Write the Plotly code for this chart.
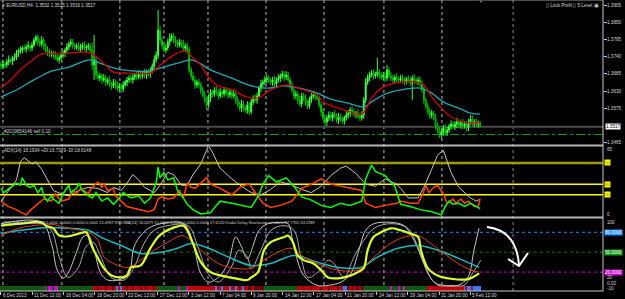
import plotly.graph_objects as go

# ---------------- DATA ----------------
first_open = 1.3716
close = [
    1.3710, 1.3717, 1.3714, 1.3723, 1.3730, 1.3726, 1.3736, 1.3739, 1.3752, 1.3758,
    1.3761, 1.3768, 1.3765, 1.3771, 1.3774, 1.3768, 1.3777, 1.3793, 1.3803, 1.3787,
    1.3781, 1.3793, 1.3774, 1.3761, 1.3755, 1.3749, 1.3752, 1.3745, 1.3739, 1.3730,
    1.3736, 1.3745, 1.3752, 1.3761, 1.3771, 1.3781, 1.3787, 1.3777, 1.3771, 1.3774,
    1.3765, 1.3771, 1.3777, 1.3768, 1.3771, 1.3774, 1.3761, 1.3714, 1.3730, 1.3682,
    1.3672, 1.3679, 1.3666, 1.3672, 1.3659, 1.3666, 1.3653, 1.3647, 1.3659, 1.3650,
    1.3640, 1.3647, 1.3637, 1.3650, 1.3659, 1.3666, 1.3672, 1.3666, 1.3675, 1.3682,
    1.3675, 1.3685, 1.3679, 1.3688, 1.3682, 1.3691, 1.3685, 1.3694, 1.3710, 1.3730,
    1.3745, 1.3825, 1.3793, 1.3777, 1.3761, 1.3768, 1.3787, 1.3800, 1.3806, 1.3793,
    1.3784, 1.3777, 1.3787, 1.3781, 1.3768, 1.3774, 1.3761, 1.3698, 1.3679, 1.3666,
    1.3650, 1.3659, 1.3650, 1.3634, 1.3618, 1.3602, 1.3586, 1.3608, 1.3627, 1.3621,
    1.3634, 1.3627, 1.3615, 1.3627, 1.3621, 1.3634, 1.3624, 1.3618, 1.3627, 1.3615,
    1.3621, 1.3602, 1.3589, 1.3576, 1.3589, 1.3576, 1.3570, 1.3586, 1.3564, 1.3596,
    1.3608, 1.3602, 1.3615, 1.3640, 1.3653, 1.3659, 1.3666, 1.3672, 1.3666, 1.3659,
    1.3666, 1.3653, 1.3666, 1.3672, 1.3679, 1.3685, 1.3675, 1.3682, 1.3666, 1.3650,
    1.3634, 1.3615, 1.3621, 1.3602, 1.3589, 1.3615, 1.3608, 1.3596, 1.3583, 1.3602,
    1.3615, 1.3618, 1.3612, 1.3608, 1.3586, 1.3564, 1.3545, 1.3532, 1.3545, 1.3554,
    1.3545, 1.3557, 1.3551, 1.3538, 1.3548, 1.3541, 1.3535, 1.3545, 1.3554, 1.3560,
    1.3570, 1.3564, 1.3557, 1.3560, 1.3551, 1.3545, 1.3554, 1.3602, 1.3659, 1.3672,
    1.3682, 1.3688, 1.3679, 1.3685, 1.3691, 1.3682, 1.3675, 1.3679, 1.3672, 1.3698,
    1.3679, 1.3672, 1.3666, 1.3675, 1.3669, 1.3666, 1.3672, 1.3666, 1.3659, 1.3669,
    1.3666, 1.3656, 1.3672, 1.3666, 1.3659, 1.3666, 1.3656, 1.3634, 1.3602, 1.3583,
    1.3564, 1.3554, 1.3560, 1.3545, 1.3522, 1.3506, 1.3490, 1.3500, 1.3513, 1.3497,
    1.3506, 1.3519, 1.3525, 1.3516, 1.3525, 1.3532, 1.3522, 1.3529, 1.3519, 1.3525,
    1.3513, 1.3532, 1.3541, 1.3525, 1.3532, 1.3525, 1.3529, 1.3517,
]
upper_wick_pips = [
    9, 12, 7, 10, 14, 8, 6, 11, 10, 8,  12, 7, 10, 9, 15, 6, 10, 8, 6, 9,
    10, 13, 7, 9, 12, 10, 6, 8, 13, 10,  9, 12, 10, 7, 13, 8, 11, 10, 6, 9,
    12, 10, 8, 13, 7, 10, 9, 23, 79, 10,  12, 9, 7, 13, 10, 8, 12, 7, 10, 9,
    13, 10, 8, 12, 7, 10, 9, 12, 10, 7,  9, 12, 10, 7, 13, 8, 10, 12, 9, 14,
    12, 64, 13, 10, 9, 12, 10, 14, 9, 10,  12, 9, 10, 7, 13, 9, 12, 10, 9, 12,
    10, 7, 12, 9, 10, 13, 9, 12, 10, 7,  9, 12, 10, 13, 7, 10, 9, 12, 10, 9,
    12, 7, 10, 9, 13, 10, 7, 12, 9, 10,  9, 12, 10, 7, 13, 9, 12, 10, 9, 7,
    10, 13, 9, 12, 7, 10, 9, 12, 10, 9,  12, 9, 10, 7, 13, 10, 9, 12, 7, 10,
    9, 12, 10, 13, 7, 9, 12, 10, 9, 12,  10, 7, 12, 9, 13, 10, 9, 7, 12, 10,
    9, 12, 10, 7, 13, 9, 12, 10, 14, 12,  10, 9, 12, 7, 45, 10, 9, 12, 10, 16,
    9, 12, 10, 7, 13, 9, 10, 12, 9, 7,  12, 10, 9, 13, 7, 10, 12, 9, 10, 7,
    9, 12, 10, 7, 13, 9, 12, 10, 9, 12,  10, 7, 12, 9, 10, 13, 9, 7, 12, 10,
    9, 10, 13, 12, 9, 10, 7, 6,
]
lower_wick_pips = [
    10, 7, 12, 9, 10, 7, 13, 9, 10, 12,  9, 10, 7, 12, 9, 13, 10, 7, 9, 12,
    10, 9, 12, 7, 13, 10, 9, 12, 10, 7,  12, 9, 10, 13, 7, 10, 9, 12, 10, 9,
    7, 12, 10, 9, 13, 10, 7, 16, 48, 12,  9, 10, 13, 7, 12, 9, 10, 12, 7, 13,
    10, 9, 12, 10, 7, 13, 9, 10, 12, 9,  10, 7, 12, 9, 10, 13, 9, 12, 7, 10,
    9, 12, 10, 13, 7, 10, 9, 12, 10, 9,  12, 10, 7, 13, 9, 10, 12, 9, 10, 7,
    13, 9, 10, 12, 7, 10, 16, 9, 12, 10,  9, 10, 12, 7, 13, 9, 10, 12, 9, 10,
    7, 12, 10, 9, 13, 10, 9, 12, 10, 7,  10, 9, 12, 7, 13, 10, 9, 12, 10, 9,
    12, 7, 10, 9, 13, 10, 12, 9, 7, 10,  9, 12, 10, 13, 7, 10, 9, 12, 10, 9,
    10, 9, 12, 7, 10, 13, 9, 16, 12, 10,  9, 12, 7, 10, 13, 9, 10, 12, 9, 10,
    12, 10, 9, 13, 7, 10, 9, 12, 10, 9,  10, 7, 12, 9, 10, 13, 9, 10, 12, 9,
    7, 10, 12, 9, 13, 10, 9, 12, 10, 7,  10, 9, 54, 12, 7, 10, 13, 9, 12, 10,
    9, 12, 10, 7, 13, 9, 9, 10, 12, 9,  10, 9, 12, 7, 10, 13, 9, 12, 10, 9,
    12, 10, 9, 7, 10, 9, 12, 1,
]

# moving averages on the price window (bar index, price)
red_ma_bar = [0, 5, 10, 15, 21, 31, 41, 46, 50, 55, 58, 65, 77, 81, 84, 89, 94, 96, 99, 103,
              107, 112, 120, 125, 132, 139, 148, 153, 163, 166, 174, 180, 186, 191, 196, 201, 206, 215, 218, 222,
              227, 232, 237, 242, 247]
red_ma_val = [1.3640, 1.3666, 1.3698, 1.3723, 1.3749, 1.3749, 1.3755, 1.3752, 1.3736, 1.3707,
              1.3691, 1.3688, 1.3688, 1.3707, 1.3723, 1.3745, 1.3758, 1.3755, 1.3736, 1.3714,
              1.3675, 1.3647, 1.3634, 1.3615, 1.3608, 1.3634, 1.3650, 1.3640, 1.3618, 1.3596,
              1.3576, 1.3564, 1.3557, 1.3608, 1.3640, 1.3653, 1.3659, 1.3659, 1.3650, 1.3612,
              1.3576, 1.3548, 1.3535, 1.3529, 1.3529]
cyan_ma_bar = [0, 8, 17, 26, 35, 46, 52, 60, 69, 77, 82, 93, 98, 103, 108, 119, 129, 138, 146, 156,
               163, 170, 179, 187, 191, 197, 206, 216, 222, 228, 236, 242, 247]
cyan_ma_val = [1.3612, 1.3634, 1.3666, 1.3694, 1.3707, 1.3730, 1.3717, 1.3701, 1.3694, 1.3694,
               1.3704, 1.3723, 1.3730, 1.3717, 1.3698, 1.3672, 1.3647, 1.3640, 1.3647, 1.3637,
               1.3624, 1.3605, 1.3592, 1.3580, 1.3596, 1.3618, 1.3634, 1.3640, 1.3624, 1.3596,
               1.3576, 1.3560, 1.3557]

# ADX(14) window
adx_bar = [0, 5, 8, 10, 12, 14, 16, 18, 21, 24, 27, 31, 35, 40, 45, 50, 55, 58, 62, 65,
           68, 71, 74, 79, 82, 86, 89, 93, 96, 99, 103, 106, 107, 109, 113, 119, 124, 129, 134, 139,
           144, 149, 155, 160, 165, 170, 175, 178, 183, 188, 193, 198, 204, 206, 210, 215, 218, 222, 225, 228,
           229, 232, 236, 239, 242, 245, 247]
adx_val = [14, 27, 34, 51, 55, 52, 49, 51, 44, 34, 24, 21, 19, 24, 27, 26, 22, 27, 24, 31,
           39, 34, 27, 22, 29, 41, 39, 29, 29, 39, 49, 62, 66, 60, 45, 35, 28, 22, 20, 25,
           32, 30, 25, 22, 28, 38, 45, 47, 40, 30, 28, 35, 30, 26, 17, 17, 27, 44, 57, 62,
           57, 41, 27, 22, 17, 14, 16]
pdi_bar = [0, 1.5, 5, 8, 10, 11, 13, 15, 17, 19, 21, 22, 24, 26, 27, 30, 32, 35, 36, 39,
           40, 42, 45, 47, 49, 52, 55, 58, 61, 63, 67, 71, 74, 77, 80, 81, 82, 84, 86, 89,
           91, 94, 96, 99, 103, 108, 111, 113, 119, 124, 129, 133, 135, 138, 142, 147, 151, 155, 160, 165,
           170, 175, 180, 186, 188, 191, 193, 198, 203, 206, 211, 216, 222, 227, 229, 231, 233, 236, 239, 242,
           245, 247]
pdi_val = [26, 22, 27, 31, 29, 36, 29, 27, 29, 22, 27, 19, 14, 19, 16, 12, 21, 29, 22, 26,
           31, 24, 19, 17, 22, 14, 17, 11, 17, 22, 17, 19, 12, 17, 31, 46, 36, 41, 34, 36,
           24, 17, 11, 6, 2, 3, 10, 14, 12, 10, 8, 20, 30, 38, 32, 36, 28, 18, 15, 10,
           8, 12, 10, 14, 35, 48, 42, 38, 28, 11, 9, 6, 4, 1, 9, 14, 11, 12, 9, 12,
           9, 7]
mdi_bar = [0, 3.6, 6.7, 10, 13, 15.5, 19, 22, 26, 28, 31, 35, 37, 39, 41, 45, 47, 50, 52, 53,
           55, 58, 59, 62, 65, 69, 72, 76, 79, 81, 83, 86, 89, 92, 94, 96, 98, 100, 103, 106,
           108, 113, 119, 124, 128, 131, 135, 139, 144, 150, 155, 160, 165, 170, 175, 180, 186, 188, 193, 198,
           204, 206, 211, 215, 217.5, 219, 220.6, 223, 225, 228, 230, 233, 234.5, 237, 239, 241, 244, 246, 247]
mdi_val = [14, 9, 7, 4, 1, 6, 11, 16, 14, 21, 14, 16, 24, 21, 26, 21, 27, 32, 27, 31,
           24, 26, 19, 14, 9, 7, 6, 4, 6, 16, 18, 16, 17, 24, 17, 31, 27, 26, 31, 36,
           30, 26, 20, 28, 30, 22, 12, 8, 10, 14, 26, 30, 35, 30, 28, 26, 24, 12, 8, 10,
           12, 14, 12, 12, 21, 29, 22, 27, 29, 21, 12, 16, 12, 16, 12, 14, 9, 9, 16]
adx_levels = [50, 30, 20]

# oscillator window (RSIOMA / Drake Delay Stochastic)
yel_bar = [0, 10, 21, 23, 27, 30, 35, 40, 44, 45, 47, 50, 53, 57, 62, 65, 67, 72, 77, 81,
           84, 89, 94, 96, 99, 103, 108, 113, 120, 127, 129, 132.5, 135.6, 139, 146, 148, 150.5, 153, 156, 161,
           165, 168.6, 175, 180.4, 184, 187, 189, 192, 196, 201, 206, 211, 215, 216.5, 220, 225, 232, 240, 243, 246.5]
yel_val = [90, 93, 95, 90, 86, 75, 74, 78, 80, 75, 58, 41, 26, 15, 12, 15, 27, 30, 56, 73,
           80, 87, 90, 83, 63, 35, 20, 15, 11, 8, 12, 20, 53, 65, 73, 75, 65, 45, 38, 33,
           23, 12, 11, 15, 20, 26, 53, 73, 80, 86, 83, 78, 73, 53, 26, 15, 10, 9, 12, 18]
org_bar = [0, 9, 17, 26, 35, 45, 50, 53, 58, 65.5, 72, 79, 86, 93, 96, 103, 112, 120, 129, 135.6,
           142.8, 149.5, 156, 163, 173.7, 184, 190.7, 197.4, 206, 215, 221.6, 228.4, 235.6, 242.3, 246.4]
org_val = [75, 86, 90, 92, 86, 80, 68, 43, 33, 27, 38, 53, 65, 75, 72, 53, 33, 26, 26, 38,
           50, 56, 43, 33, 23, 23, 38, 56, 71, 75, 63, 48, 33, 23, 20]
cy3_bar = [0, 10, 22, 35, 45, 52, 62, 72, 82.5, 91, 98, 107, 117, 129, 139, 151, 163, 173.7, 185.6, 194.3,
           204.6, 215, 225.3, 235.6, 246.4]
cy3_val = [78, 83, 87, 86, 83, 72, 60, 48, 50, 56, 63, 56, 43, 30, 33, 45, 35, 27, 27, 43,
           56, 60, 53, 41, 27]
stA_bar = [0, 21, 26, 29, 32, 34.5, 38.7, 42.3, 45, 48, 51.5, 55, 60, 65.5, 68.6, 72, 76, 82.5, 94.3, 99,
           103, 107, 112, 117, 121, 124, 127, 130, 133, 137.6, 144.3, 148, 151, 156, 163, 168.6, 175.3, 180.4, 184, 188,
           192.3, 201, 207.7, 212.9, 218, 223.2, 228.4, 235.6, 240.7, 243.8, 246.4]
stA_val = [93, 95, 63, 23, 11, 18, 48, 73, 75, 53, 18, 8, 8, 15, 58, 75, 86, 93, 93, 63,
           18, 5, 12, 33, 73, 58, 40, 60, 83, 93, 95, 93, 58, 15, 0, 0, 5, 18, 48, 83,
           93, 95, 90, 68, 33, 5, 0, 0, 12, 53, 86]
stB_bar = [0, 21, 26, 30, 34.5, 39.7, 43.8, 47.4, 51.5, 56.7, 63.4, 68.6, 73.7, 78.9, 86.1, 96.4, 101.5, 106.7, 111.9, 118.6,
           122.7, 127, 129, 134, 139.2, 145.9, 151, 154.6, 158.2, 163.4, 168.6, 171.6, 176.8, 182, 187.1, 192.3, 201, 209.8, 214.9, 220.1,
           225.3, 232, 238.7, 242.3, 247.4]
stB_val = [90, 93, 83, 43, 12, 26, 58, 65, 43, 12, 8, 27, 63, 83, 90, 90, 58, 18, 5, 27,
           53, 43, 25, 53, 83, 90, 83, 43, 12, 20, 38, 33, 12, 43, 68, 86, 93, 86, 58, 18,
           0, 0, 0, 15, 38]
osc_levels = [80, 50, 20]
# trend histogram state per bar: G green, M magenta, R red, D dark red, B blue
hist_state = ("G" * 23 + "MGMMGMM" + "G" * 18 + "RRDRRRDRRRDR" + "BRB" + "RRDRRDRRRDRRDRRRDR"
              + "G" * 11 + "M" + "GGG" + "M" + "R" * 13 + "RBRRBRRRB" + "RRBRDRBRRDDR" + "DDDDD"
              + "G" * 17 + "RRRDRRRDRRRRDRRRDRRRRDRR" + "BB" + "DRDRDDRD" + "G" * 13
              + "GMGGGMGGMG" + "G" * 10 + "R" * 19 + "BRBBRBBBB")

# time axis
x_labels = ["6 Dec 2013", "11 Dec 12:00", "16 Dec 04:00", "18 Dec 20:00", "23 Dec 12:00",
            "27 Dec 12:00", "3 Jan 12:00", "7 Jan 04:00", "9 Jan 20:00", "14 Jan 12:00",
            "17 Jan 04:00", "21 Jan 20:00", "24 Jan 12:00", "29 Jan 04:00", "31 Jan 20:00",
            "5 Feb 12:00"]
x_label_bar = [0, 16, 32.3, 48.4, 64.5, 80.7, 96.8, 112.9, 129.1, 145.2, 161.3, 177.5, 193.6,
               209.7, 225.9, 242]
week_sep_bar = [1, 31.4, 61.3, 84, 106.7, 136.6, 166.5, 197.4, 227.3]
price_ticks = [1.3905, 1.3850, 1.3795, 1.3740, 1.3685, 1.3630, 1.3575, 1.3465]
last_price = 1.3517
order_price = 1.3492

# ---------------- FIGURE ----------------
n = len(close)
bars = list(range(n))
opens = [first_open] + close[:-1]
highs = [max(o, c) + u / 10000 for o, c, u in zip(opens, close, upper_wick_pips)]
lows = [min(o, c) - l / 10000 for o, c, l in zip(opens, close, lower_wick_pips)]

W, H = 625, 299
PW, PH = 603, 291
FONT = "Liberation Sans"
TXT = "#d8d8d8"


def dom(top, bottom):
    return [(PH - bottom) / PH, (PH - top) / PH]


def py(ypx):
    return (PH - ypx) / PH


def px(xpx):
    return xpx / PW


fig = go.Figure()

fig.add_trace(go.Candlestick(
    x=bars, open=opens, high=highs, low=lows, close=close, xaxis="x", yaxis="y",
    increasing=dict(line=dict(color="#3cff3c", width=1), fillcolor="#e6ffe6"),
    decreasing=dict(line=dict(color="#00c000", width=1), fillcolor="#000000"),
    whiskerwidth=0, hoverinfo="skip"))
fig.add_trace(go.Scatter(x=cyan_ma_bar, y=cyan_ma_val, mode="lines", yaxis="y",
                         line=dict(color="#23a8b4", width=1.3, shape="spline")))
fig.add_trace(go.Scatter(x=red_ma_bar, y=red_ma_val, mode="lines", yaxis="y",
                         line=dict(color="#d00000", width=1.3, shape="spline")))

fig.add_trace(go.Scatter(x=adx_bar, y=adx_val, mode="lines", yaxis="y2",
                         line=dict(color="#c8c8c8", width=1)))
fig.add_trace(go.Scatter(x=mdi_bar, y=mdi_val, mode="lines", yaxis="y2",
                         line=dict(color="#ff4500", width=1.5)))
fig.add_trace(go.Scatter(x=pdi_bar, y=pdi_val, mode="lines", yaxis="y2",
                         line=dict(color="#00ff00", width=1.5)))

colmap = {"G": "#0b5a0b", "M": "#d000d0", "R": "#c00000", "D": "#6a0000", "B": "#2f7cff"}
hist_low = -8.5
fig.add_trace(go.Bar(x=bars, y=[-hist_low - 0.8] * n, base=hist_low, yaxis="y3",
                     marker=dict(color=[colmap[s] for s in hist_state[:n]], line=dict(width=0)),
                     width=0.6, hoverinfo="skip"))
fig.add_trace(go.Scatter(x=stB_bar, y=stB_val, mode="lines", yaxis="y3",
                         line=dict(color="#a8a8a8", width=1, shape="spline")))
fig.add_trace(go.Scatter(x=stA_bar, y=stA_val, mode="lines", yaxis="y3",
                         line=dict(color="#c8c8c8", width=1, shape="spline")))
fig.add_trace(go.Scatter(x=cy3_bar, y=cy3_val, mode="lines", yaxis="y3",
                         line=dict(color="#20b8c0", width=1.5, shape="spline")))
fig.add_trace(go.Scatter(x=org_bar, y=org_val, mode="lines", yaxis="y3",
                         line=dict(color="#e04010", width=1, shape="spline")))
fig.add_trace(go.Scatter(x=yel_bar, y=yel_val, mode="lines", yaxis="y3",
                         line=dict(color="#d8ff30", width=2.2, shape="spline")))

shapes = []
# weekly separators
for b in week_sep_bar:
    shapes.append(dict(type="line", xref="x", yref="paper", x0=b, x1=b, y0=0, y1=1,
                       line=dict(color="#bdbdbd", width=1, dash="dot"), layer="below"))
shapes.append(dict(type="line", xref="x", yref="paper", x0=264, x1=264, y0=0, y1=1,
                   line=dict(color="#5a5a5a", width=1.5, dash="dot"), layer="below"))
# current price and order line
shapes.append(dict(type="line", xref="paper", yref="y", x0=0, x1=1, y0=last_price, y1=last_price,
                   line=dict(color="#4a4a4a", width=2), layer="below"))
shapes.append(dict(type="line", xref="paper", yref="y", x0=0, x1=1, y0=order_price, y1=order_price,
                   line=dict(color="#10a010", width=1, dash="dashdot"), layer="below"))
# ADX levels
shapes.append(dict(type="line", xref="paper", yref="y2", x0=0, x1=1, y0=adx_levels[0], y1=adx_levels[0],
                   line=dict(color="#9c9c00", width=2.5), layer="below"))
for lv in adx_levels[1:]:
    shapes.append(dict(type="line", xref="paper", yref="y2", x0=0, x1=1, y0=lv, y1=lv,
                       line=dict(color="#ffff00", width=1.5), layer="below"))
# oscillator levels
for lv, c in zip(osc_levels, ["#1e8fff", "#0a7a0a", "#d000d0"]):
    shapes.append(dict(type="line", xref="paper", yref="y3", x0=0, x1=1, y0=lv, y1=lv,
                       line=dict(color=c, width=1, dash="dot"), layer="below"))
# window separators / frame
for ypx in [145.5, 217.5]:
    shapes.append(dict(type="line", xref="paper", yref="paper", x0=0, x1=1, y0=py(ypx), y1=py(ypx),
                       line=dict(color="#b8b8b8", width=2)))
shapes.append(dict(type="line", xref="paper", yref="paper", x0=0, x1=1, y0=1, y1=1,
                   line=dict(color="#9a9a9a", width=1)))
shapes.append(dict(type="line", xref="paper", yref="paper", x0=1, x1=1, y0=0, y1=1,
                   line=dict(color="#c8c8c8", width=1)))
shapes.append(dict(type="line", xref="paper", yref="paper", x0=0, x1=1, y0=0, y1=0,
                   line=dict(color="#c8c8c8", width=1)))
# hand drawn arrow
shapes.append(dict(type="path", xref="paper", yref="paper",
                   path=f"M {px(487)},{py(227)} C {px(505)},{py(229)} {px(517)},{py(240)} {px(519)},{py(265)}",
                   line=dict(color="#ffffff", width=2)))
shapes.append(dict(type="path", xref="paper", yref="paper",
                   path=f"M {px(508)},{py(259)} L {px(519)},{py(266)} L {px(528)},{py(253)}",
                   line=dict(color="#ffffff", width=2)))

ann = []


def t(x, y, text, size=5, color=TXT, xanchor="left", yanchor="middle", bg=None, xref="paper", yref="paper", **kw):
    d = dict(x=x, y=y, xref=xref, yref=yref, text=text, showarrow=False, xanchor=xanchor,
             yanchor=yanchor, font=dict(family=FONT, size=size, color=color), borderpad=0)
    if bg:
        d["bgcolor"] = bg
    d.update(kw)
    ann.append(d)


t(px(1), py(5), "▾ EURUSD,H4  1.3532 1.3535 1.3516 1.3517", size=4.6)
t(px(545), py(5), "▯ Lock Profit ▯ 5 Level ▣", size=4.6)
t(px(481), py(2), "▼", size=4, color="#8a8a8a", xanchor="center")
t(px(3), py(131), "#2019654146 sell 0.10", size=4.6)
t(px(3), py(150.5), "ADX(14) 18.1934 +DI:16.7379 -DI:18.6148", size=4.6)
t(px(3), py(223),
  "RSIOMA(14) 16.4780 10.0000 0.0000 0.0000 0.0000 15.4987 RSIOMA(14) 18.6479 10.0000 0.0000 0.0000 0.0000 27.6120 Drake Delay Stochastic no alarm 87.7705 63.2389",
  size=4)

# right scale labels
for v in price_ticks:
    t(1, v, f"{v:.4f}", yref="y", xshift=3, size=4.6)
t(1, last_price, f"{last_price:.4f}", yref="y", xshift=2, color="#000000", bg="#ffffff", size=4.6)
t(1, py(149), "65", xshift=3, size=4.6)
t(1, py(214), "0", xshift=3, size=4.6)
for lv in adx_levels:
    t(1, lv, str(lv), yref="y2", xshift=1, color="#6a6a00", bg="#ffff00", size=4)
t(1, py(222), "100", xshift=3, size=4.6)
for lv, c in zip(osc_levels, ["#1e8fff", "#0a9a0a", "#d000d0"]):
    t(1, lv, f"{lv:.4f}", yref="y3", xshift=1, color="#ffffff", bg=c, size=4.6)
t(1, py(277), "20", xshift=3, size=4.6)
t(1, py(283), "0.00", xshift=3, size=4.6)
t(1, py(288.5), "-10", xshift=3, size=4.6)

# time labels
for b, s in zip(x_label_bar, x_labels):
    t(b, 0, s, xref="x", yanchor="top", yshift=-1, xshift=1, size=4.6)

fig.update_layout(
    width=W, height=H, margin=dict(l=0, r=W - PW, t=0, b=H - PH),
    paper_bgcolor="#000000", plot_bgcolor="#000000", showlegend=False,
    bargap=0, shapes=shapes, annotations=ann,
    xaxis=dict(range=[-0.5, PW / 1.94 - 0.5], anchor="y3", showgrid=False, zeroline=False,
               showticklabels=False, ticks="outside", ticklen=3, tickcolor="#c8c8c8",
               tickvals=x_label_bar, rangeslider=dict(visible=False), fixedrange=True),
    yaxis=dict(domain=dom(0, 145), range=[1.3921 - 0.000319 * 145, 1.3921], side="right",
               showgrid=False, zeroline=False, showticklabels=False, ticks="outside",
               ticklen=3, tickcolor="#c8c8c8", tickvals=price_ticks, fixedrange=True),
    yaxis2=dict(domain=dom(147, 216), range=[0, 65], side="right", showgrid=False,
                zeroline=False, showticklabels=False, fixedrange=True),
    yaxis3=dict(domain=dom(219, 291), range=[-8.5, 100], side="right", showgrid=False,
                zeroline=False, showticklabels=False, fixedrange=True),
)

fig.write_html("out.html", config={"displayModeBar": False})
